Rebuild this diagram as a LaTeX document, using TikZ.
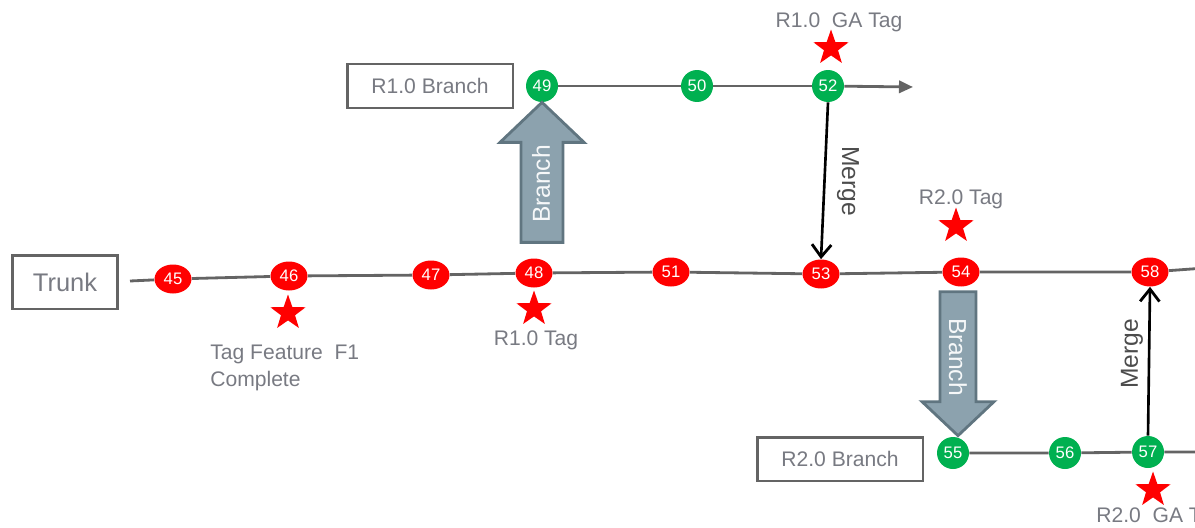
\documentclass[tikz,border=0pt]{standalone}
\usepackage{fontspec}
\setmainfont{Liberation Sans}
\usepackage{tikz}
\usetikzlibrary{shapes,arrows.meta,positioning,calc}
\definecolor{commitRed}{RGB}{255,0,0}
\definecolor{commitGreen}{RGB}{0,176,80}
\definecolor{lineGray}{RGB}{100,100,100}
\definecolor{labelGray}{RGB}{120,122,130}
\definecolor{blockFill}{RGB}{140,162,174}
\definecolor{blockEdge}{RGB}{96,117,128}

\begin{document}
\begin{tikzpicture}[x=0.02cm,y=-0.02cm,
  namebox/.style={rectangle,draw=lineGray,line width=1.7pt,fill=white,
                  minimum width=3.32cm,minimum height=0.88cm,
                  font=\fontsize{12}{14}\selectfont,text=labelGray},
  redcommit/.style={ellipse,fill=commitRed,inner sep=0pt,
                    minimum width=0.74cm,minimum height=0.58cm,
                    font=\fontsize{9.5}{10}\selectfont,text=white},
  greencommit/.style={circle,fill=commitGreen,inner sep=0pt,
                      minimum size=0.64cm,
                      font=\fontsize{9.5}{10}\selectfont,text=white},
  tagstar/.style={star,star points=5,star point ratio=2.5,fill=commitRed,
                  inner sep=0pt,minimum size=0.74cm},
  taglbl/.style={font=\fontsize{12}{15}\selectfont,text=labelGray,inner sep=0pt},
  mergearrow/.style={-{Straight Barb[length=7pt,width=11pt,line width=1.6pt]},
                     line width=1.5pt,black},
  mergelbl/.style={font=\fontsize{14}{16}\selectfont,text=black!70,inner sep=0pt},
  branchblock/.style={fill=blockFill,draw=blockEdge,line width=1.6pt,line join=miter},
  branchlbl/.style={font=\fontsize{14}{16}\selectfont,text=white!92!blockFill,inner sep=0pt},
  track/.style={lineGray,line width=1.6pt}
]
\useasboundingbox (0,0) rectangle (1195,527);
% Trunk
\node[namebox,minimum width=2.12cm,minimum height=1.08cm,
      font=\fontsize{14.5}{16}\selectfont] (trunk) at (65,282) {Trunk};
\coordinate (tstart) at (130,281);
\coordinate (tend) at (1205,268);
\node[redcommit] (n45) at (173,279) {45};
\node[redcommit] (n46) at (289,276) {46};
\node[redcommit] (n47) at (431,275) {47};
\node[redcommit] (n48) at (534,273) {48};
\node[redcommit] (n51) at (671,272) {51};
\node[redcommit] (n53) at (821,274) {53};
\node[redcommit] (n54) at (961,272) {54};
\node[redcommit] (n58) at (1150,272) {58};
\draw[track] (tstart) -- (n45) -- (n46) -- (n47) -- (n48) -- (n51)
  -- (n53) -- (n54) -- (n58) -- (tend);
% R1.0 branch
\node[namebox] (r1box) at (430,86) {R1.0 Branch};
\node[greencommit] (n49) at (542,86) {49};
\node[greencommit] (n50) at (697,86) {50};
\node[greencommit] (n52) at (828,86) {52};
\coordinate (r1end) at (913,87);
\draw[track] (n49) -- (n50) -- (n52);
\draw[track,-{Triangle[length=8pt,width=7pt]}] (n52) -- (r1end);
% R2.0 branch
\node[namebox] (r2box) at (840,459) {R2.0 Branch};
\node[greencommit] (n55) at (953,453) {55};
\node[greencommit] (n56) at (1065,453) {56};
\node[greencommit] (n57) at (1148,452) {57};
\coordinate (r2end) at (1205,452);
\draw[track] (n55) -- (n56) -- (n57) -- (r2end);
% Branch arrows
\draw[branchblock] (n49.south) -- ++(42,40) -- ++(-21,0) -- ++(0,100)
  -- ++(-42,0) -- ++(0,-100) -- ++(-21,0) -- cycle;
\node[branchlbl,rotate=90] (br1) at (541,184) {Branch};
\draw[branchblock] ($(n55.north)+(5,-1)$) -- ++(36,-34) -- ++(-18,0) -- ++(0,-110)
  -- ++(-36,0) -- ++(0,110) -- ++(-18,0) -- cycle;
\node[branchlbl,rotate=-90] (br2) at (958,357) {Branch};
% Merges
\draw[mergearrow] (n52.south) -- (n53.north);
\node[mergelbl,rotate=-90] (m1) at (848,181) {Merge};
\draw[mergearrow] (n57.north) -- (n58.south);
\node[mergelbl,rotate=90] (m2) at (1132,354) {Merge};
% Tags
\node[tagstar] (s46) at (288,313) {};
\node[taglbl,anchor=north west,align=left] (l46) at (210,345)
  {Tag Feature\ \ F1\\Complete};
\node[tagstar] (s48) at (534,309) {};
\node[taglbl] (l48) at (536,340) {R1.0 Tag};
\node[tagstar] (s52) at (831,48) {};
\node[taglbl] (l52) at (839,22) {R1.0\ \ GA Tag};
\node[tagstar] (s54) at (956,226) {};
\node[taglbl] (l54) at (961,199) {R2.0 Tag};
\node[tagstar] (s57) at (1153,490) {};
\node[taglbl,anchor=west] (l57) at (1096,517) {R2.0\ \ GA Tag};
\end{tikzpicture}
\end{document}
